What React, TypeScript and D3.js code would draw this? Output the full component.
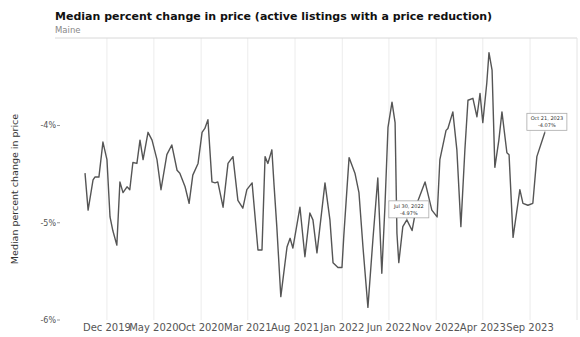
import React from 'react';
import * as d3 from 'd3';

// weekly readings (approximate)
const weekDates = [
  '2019-09-21','2019-10-01','2019-10-17','2019-10-23','2019-11-05','2019-11-18','2019-12-01','2019-12-11','2019-12-20','2020-01-02',
  '2020-01-12','2020-01-22','2020-02-04','2020-02-13','2020-02-23','2020-03-07','2020-03-17','2020-03-27','2020-04-12','2020-04-25',
  '2020-05-11','2020-05-24','2020-06-12','2020-06-28','2020-07-15','2020-07-24','2020-08-10','2020-08-23','2020-09-04','2020-09-21',
  '2020-10-04','2020-10-13','2020-10-23','2020-11-05','2020-11-15','2020-11-24','2020-12-11','2020-12-27','2021-01-12','2021-01-28',
  '2021-02-13','2021-02-26','2021-03-15','2021-04-03','2021-04-16','2021-04-26','2021-05-05','2021-05-18','2021-05-25','2021-06-03',
  '2021-06-16','2021-07-06','2021-07-16','2021-07-25','2021-08-17','2021-09-02','2021-09-18','2021-09-28','2021-10-11','2021-11-06',
  '2021-11-22','2021-12-02','2021-12-18','2021-12-31','2022-01-06','2022-01-23','2022-02-11','2022-02-24','2022-03-09','2022-03-25',
  '2022-04-10','2022-04-26','2022-05-09','2022-05-19','2022-05-29','2022-06-11','2022-06-21','2022-06-27','2022-07-03','2022-07-16',
  '2022-07-29','2022-08-15','2022-08-31','2022-09-26','2022-10-18','2022-11-04','2022-11-13','2022-12-03','2022-12-09','2022-12-25',
  '2023-01-07','2023-01-20','2023-02-02','2023-02-12','2023-02-28','2023-03-13','2023-03-23','2023-04-01','2023-04-14','2023-04-21',
  '2023-05-01','2023-05-10','2023-05-23','2023-06-02','2023-06-18','2023-06-25','2023-07-08','2023-07-30','2023-08-09','2023-08-25',
  '2023-09-10','2023-09-23','2023-10-19',
];

const medianChange = [
  -4.49,-4.87,-4.56,-4.53,-4.53,-4.17,-4.35,-4.94,-5.08,-5.23,
  -4.58,-4.69,-4.63,-4.66,-4.38,-4.39,-4.15,-4.35,-4.07,-4.15,
  -4.35,-4.66,-4.30,-4.20,-4.46,-4.49,-4.63,-4.80,-4.51,-4.39,
  -4.07,-4.03,-3.94,-4.58,-4.59,-4.58,-4.84,-4.39,-4.32,-4.77,
  -4.85,-4.66,-4.59,-5.28,-5.28,-4.32,-4.39,-4.25,-4.61,-5.04,
  -5.76,-5.25,-5.16,-5.26,-4.84,-5.35,-4.90,-4.97,-5.31,-4.59,
  -4.97,-5.41,-5.46,-5.46,-5.13,-4.33,-4.49,-4.69,-5.25,-5.87,
  -5.18,-4.54,-5.52,-4.84,-4.02,-3.76,-3.97,-5.11,-5.41,-5.04,
  -4.97,-5.08,-4.80,-4.58,-4.87,-4.94,-4.35,-4.05,-4.03,-3.86,
  -4.25,-5.04,-4.25,-3.74,-3.72,-3.91,-3.67,-3.97,-3.56,-3.25,
  -3.43,-4.43,-4.15,-3.86,-4.28,-4.30,-5.15,-4.66,-4.80,-4.82,
  -4.80,-4.32,-4.07,
];

const xTickDates = ['2019-12-01','2020-05-01','2020-10-01','2021-03-01','2021-08-01','2022-01-01','2022-06-01','2022-11-01','2023-04-01','2023-09-01'];
const yTicks = [-6, -5, -4];

// highlighted points: [index, first line, second line]
const callouts: [number, string, string][] = [
  [80, 'Jul 30, 2022', '-4.97%'],
  [112, 'Oct 21, 2023', '-4.07%'],
];

const W = 580, H = 337;
const plot = { left: 60, right: 577, top: 38, bottom: 320 };
const parse = d3.timeParse('%Y-%m-%d');
const fmtTick = d3.timeFormat('%b %Y');

export default function App() {
  const data = weekDates.map((d, i) => ({ date: parse(d)!, value: medianChange[i] }));

  const x = d3.scaleTime()
    .domain([parse('2019-07-02')!, parse('2024-01-31')!])
    .range([plot.left, plot.right]);
  const y = d3.scaleLinear().domain([-6, -3.1]).range([plot.bottom, plot.top]);

  const line = d3.line<{ date: Date; value: number }>()
    .x(d => x(d.date))
    .y(d => y(d.value));

  const font = 'DejaVu Sans, sans-serif';

  return (
    <div style={{ position: 'fixed', left: 0, top: 0 }}>
      <svg width={W} height={H} style={{ display: 'block', background: '#fff' }}>
        <text x={55} y={20} fontFamily={font} fontSize={11} fontWeight="bold" fill="#111">
          Median percent change in price (active listings with a price reduction)
        </text>
        <text x={55} y={33} fontFamily={font} fontSize={8.5} fill="#888">Maine</text>

        {/* vertical grid */}
        {xTickDates.map(t => (
          <line key={t} x1={x(parse(t)!)} x2={x(parse(t)!)} y1={plot.top} y2={plot.bottom}
            stroke="#ececec" strokeWidth={1} />
        ))}
        {/* frame */}
        <line x1={55} x2={plot.right} y1={plot.top} y2={plot.top} stroke="#d8d8d8" />
        <line x1={plot.right} x2={plot.right} y1={plot.top} y2={plot.bottom} stroke="#e4e4e4" />

        {/* y axis */}
        {yTicks.map(t => (
          <g key={t}>
            <line x1={plot.left - 3} x2={plot.left} y1={y(t)} y2={y(t)} stroke="#999" />
            <text x={plot.left - 4} y={y(t)} dy="0.35em" textAnchor="end" fontFamily={font} fontSize={8} fill="#555">
              {`${t}%`}
            </text>
          </g>
        ))}
        <text transform={`translate(18,${(plot.top + plot.bottom) / 2 + 10}) rotate(-90)`} textAnchor="middle"
          fontFamily={font} fontSize={9.5} fill="#333">
          Median percent change in price
        </text>

        {/* x axis labels */}
        {xTickDates.map(t => (
          <text key={t} x={x(parse(t)!)} y={330.5} textAnchor="middle" fontFamily={font} fontSize={10} fill="#555">
            {fmtTick(parse(t)!)}
          </text>
        ))}

        <path d={line(data) ?? ''} fill="none" stroke="#555" strokeWidth={1.4} strokeLinejoin="round" />

        {callouts.map(([i, l1, l2]) => {
          const px = x(data[i].date), py = y(data[i].value);
          const bw = 40, bh = 17;
          const bx = Math.min(px - 18, plot.right - bw), by = py - bh - 2;
          return (
            <g key={i}>
              <line x1={px} x2={px} y1={py} y2={by + bh} stroke="#999" strokeWidth={0.8} />
              <rect x={bx} y={by} width={bw} height={bh} fill="#fff" stroke="#aaa" strokeWidth={0.8} />
              <text x={bx + bw / 2} y={by + 7} textAnchor="middle" fontFamily={font} fontSize={5} fill="#333">{l1}</text>
              <text x={bx + bw / 2} y={by + 14} textAnchor="middle" fontFamily={font} fontSize={5} fill="#333">{l2}</text>
            </g>
          );
        })}
      </svg>
    </div>
  );
}
